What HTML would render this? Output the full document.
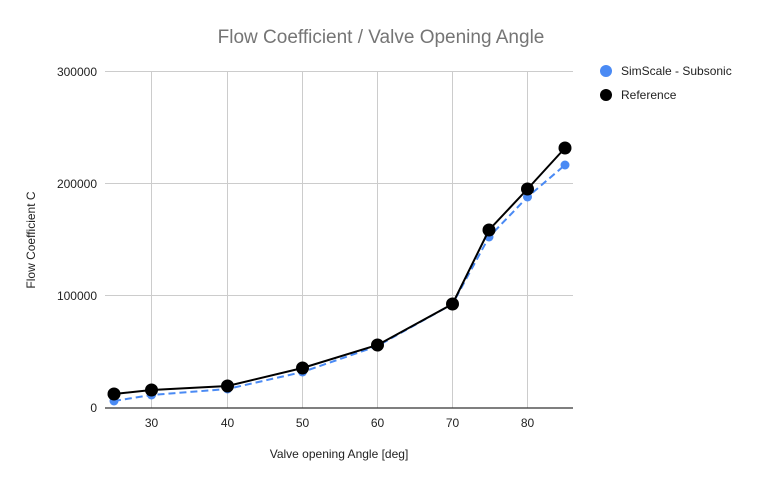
<!DOCTYPE html>
<html><head><style>body{margin:0;background:#fff}svg{display:block}</style></head>
<body>
<svg width="760" height="485" xmlns="http://www.w3.org/2000/svg" font-family="Liberation Sans, sans-serif">
<rect width="760" height="485" fill="#fff"/>
<text x="381" y="43" text-anchor="middle" font-size="19" fill="#757575">Flow Coefficient / Valve Opening Angle</text>
<g stroke="#cccccc" stroke-width="1">
<line x1="105" y1="71.5" x2="573" y2="71.5"/>
<line x1="105" y1="183.5" x2="573" y2="183.5"/>
<line x1="105" y1="295.5" x2="573" y2="295.5"/>
<line x1="151.5" y1="71" x2="151.5" y2="408"/>
<line x1="227.5" y1="71" x2="227.5" y2="408"/>
<line x1="302.5" y1="71" x2="302.5" y2="408"/>
<line x1="377.5" y1="71" x2="377.5" y2="408"/>
<line x1="452.5" y1="71" x2="452.5" y2="408"/>
<line x1="527.5" y1="71" x2="527.5" y2="408"/>
</g>
<line x1="105" y1="408" x2="573" y2="408" stroke="#333" stroke-width="1.3"/>
<g font-size="12" fill="#222" text-anchor="end">
<text x="97" y="76">300000</text>
<text x="97" y="188">200000</text>
<text x="97" y="300">100000</text>
<text x="97" y="412">0</text>
</g>
<g font-size="12" fill="#222" text-anchor="middle">
<text x="151.5" y="427">30</text><text x="227.5" y="427">40</text><text x="302.5" y="427">50</text>
<text x="377.5" y="427">60</text><text x="452.5" y="427">70</text><text x="527.5" y="427">80</text>
</g>
<text x="339" y="458" text-anchor="middle" font-size="12" fill="#222">Valve opening Angle [deg]</text>
<text transform="translate(35,240) rotate(-90)" text-anchor="middle" font-size="12" fill="#222">Flow Coefficient C</text>
<polyline fill="none" stroke="#4a8af4" stroke-width="2" stroke-dasharray="7,4" points="114,401 151.5,395 227.5,389 302.5,372 377.5,346 452.5,304 489,237 527.5,197 565,165"/>
<g fill="#4a8af4">
<circle cx="114" cy="401" r="4.5"/><circle cx="151.5" cy="395" r="4.5"/><circle cx="227.5" cy="389" r="4.5"/>
<circle cx="302.5" cy="372" r="4.5"/><circle cx="377.5" cy="346" r="4.5"/><circle cx="452.5" cy="304" r="4.5"/>
<circle cx="489" cy="237" r="4.5"/><circle cx="527.5" cy="197" r="4.5"/><circle cx="565" cy="165" r="4.5"/>
</g>
<polyline fill="none" stroke="#000" stroke-width="2" points="114,394 151.5,390 227.5,386 302.5,368 377.5,345 452.5,304 489,230 527.5,189 565,148"/>
<g fill="#000">
<circle cx="114" cy="394" r="6.5"/><circle cx="151.5" cy="390" r="6.5"/><circle cx="227.5" cy="386" r="6.5"/>
<circle cx="302.5" cy="368" r="6.5"/><circle cx="377.5" cy="345" r="6.5"/><circle cx="452.5" cy="304" r="6.5"/>
<circle cx="489" cy="230" r="6.5"/><circle cx="527.5" cy="189" r="6.5"/><circle cx="565" cy="148" r="6.5"/>
</g>
<circle cx="606" cy="71" r="6" fill="#4a8af4"/>
<text x="621" y="75" font-size="12" fill="#222">SimScale - Subsonic</text>
<circle cx="606" cy="95" r="6" fill="#000"/>
<text x="621" y="99" font-size="12" fill="#222">Reference</text>
</svg>
</body></html>
